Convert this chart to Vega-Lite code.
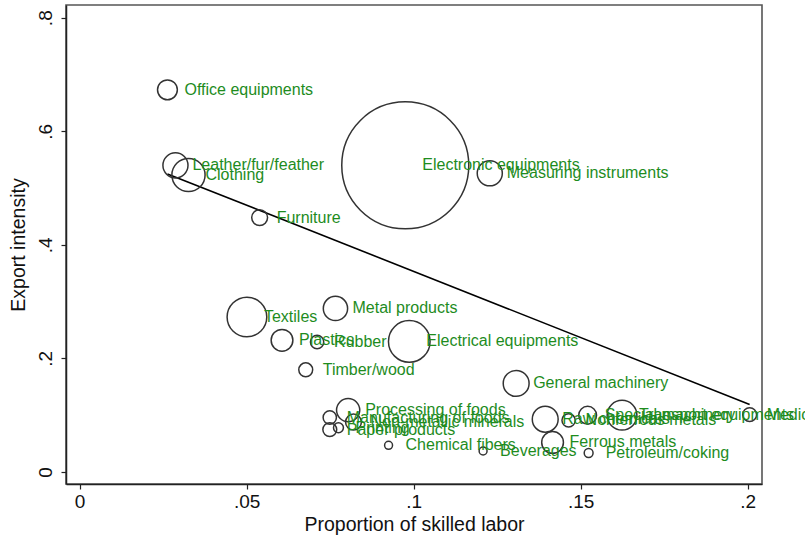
{
  "$schema": "https://vega.github.io/schema/vega-lite/v6.json",
  "width": 696,
  "height": 479,
  "autosize": {"type": "none"},
  "padding": {"left": 66, "top": 5, "right": 43, "bottom": 56},
  "background": "white",
  "config": {
    "view": {"stroke": "#555", "strokeWidth": 1.6},
    "font": "Liberation Sans",
    "axis": {"grid": false, "domainColor": "#222", "domainWidth": 1.5, "tickColor": "#222", "tickWidth": 1.2, "tickSize": 5, "labelFontSize": 19, "labelColor": "#111", "titleFontSize": 19.5, "titleFontWeight": "normal", "titleColor": "#111"}
  },
  "datasets": {
    "industries": [
      {"name": "Office equipments", "skilled": 0.0263, "export": 0.673, "weight": 1.0},
      {"name": "Leather/fur/feather", "skilled": 0.0287, "export": 0.540, "weight": 1.6},
      {"name": "Clothing", "skilled": 0.0326, "export": 0.523, "weight": 2.8},
      {"name": "Furniture", "skilled": 0.0539, "export": 0.448, "weight": 0.64},
      {"name": "Electronic equipments", "skilled": 0.0975, "export": 0.540, "weight": 41},
      {"name": "Measuring instruments", "skilled": 0.1228, "export": 0.526, "weight": 1.6},
      {"name": "Textiles", "skilled": 0.0501, "export": 0.273, "weight": 4.0},
      {"name": "Metal products", "skilled": 0.0766, "export": 0.288, "weight": 1.5},
      {"name": "Plastics", "skilled": 0.0606, "export": 0.232, "weight": 1.2},
      {"name": "Rubber", "skilled": 0.0711, "export": 0.229, "weight": 0.45},
      {"name": "Electrical equipments", "skilled": 0.0987, "export": 0.230, "weight": 4.4},
      {"name": "Timber/wood", "skilled": 0.0677, "export": 0.180, "weight": 0.49},
      {"name": "General machinery", "skilled": 0.1307, "export": 0.156, "weight": 1.7},
      {"name": "Processing of foods", "skilled": 0.0804, "export": 0.109, "weight": 1.37},
      {"name": "Manufacturing of foods", "skilled": 0.0749, "export": 0.096, "weight": 0.45},
      {"name": "Paper products", "skilled": 0.0749, "export": 0.0747, "weight": 0.49},
      {"name": "Non-metallic minerals", "skilled": 0.0820, "export": 0.088, "weight": 0.64},
      {"name": "Printing", "skilled": 0.0775, "export": 0.078, "weight": 0.25},
      {"name": "Chemical fibers", "skilled": 0.0925, "export": 0.047, "weight": 0.16},
      {"name": "Beverages", "skilled": 0.1208, "export": 0.037, "weight": 0.16},
      {"name": "Raw chemicals", "skilled": 0.1394, "export": 0.093, "weight": 1.7},
      {"name": "Nonferrous metals", "skilled": 0.1464, "export": 0.091, "weight": 0.45},
      {"name": "Special machinery", "skilled": 0.1521, "export": 0.100, "weight": 0.81},
      {"name": "Transport equipments", "skilled": 0.1624, "export": 0.100, "weight": 2.25},
      {"name": "Ferrous metals", "skilled": 0.1416, "export": 0.052, "weight": 1.2},
      {"name": "Petroleum/coking", "skilled": 0.1524, "export": 0.0335, "weight": 0.2},
      {"name": "Medicines", "skilled": 0.2006, "export": 0.101, "weight": 0.49}
    ],
    "fit": [
      {"skilled": 0.0263, "export": 0.525},
      {"skilled": 0.2006, "export": 0.119}
    ]
  },
  "encoding": {
    "x": {"field": "skilled", "type": "quantitative",
          "scale": {"domain": [-0.00407, 0.2043], "nice": false, "zero": false},
          "axis": {"orient": "bottom", "values": [0, 0.05, 0.1, 0.15, 0.2], "labelExpr": "datum.value == 0 ? '0' : replace(toString(datum.value), '0.', '.')", "labelPadding": 3, "title": "Proportion of skilled labor", "titlePadding": 4}},
    "y": {"field": "export", "type": "quantitative",
          "scale": {"domain": [-0.0211, 0.8224], "nice": false, "zero": false},
          "axis": {"orient": "left", "values": [0, 0.2, 0.4, 0.6, 0.8], "labelExpr": "datum.value == 0 ? '0' : replace(toString(datum.value), '0.', '.')", "labelAngle": -90, "labelAlign": "center", "labelBaseline": "bottom", "labelPadding": 6, "title": "Export intensity", "titlePadding": 8}}
  },
  "layer": [
    {
      "data": {"name": "fit"},
      "mark": {"type": "line", "color": "black", "strokeWidth": 1.6}
    },
    {
      "data": {"name": "industries"},
      "mark": {"type": "point", "shape": "circle", "filled": false, "stroke": "#333", "strokeWidth": 1.5, "opacity": 1},
      "encoding": {
        "size": {"field": "weight", "type": "quantitative", "scale": {"domain": [0, 41], "range": [0, 16129], "zero": true}, "legend": null}
      }
    },
    {
      "data": {"name": "industries"},
      "mark": {"type": "text", "align": "left", "baseline": "middle", "dx": 17, "fontSize": 16, "color": "#1e8c1e"},
      "encoding": {
        "text": {"field": "name"}
      }
    }
  ]
}
